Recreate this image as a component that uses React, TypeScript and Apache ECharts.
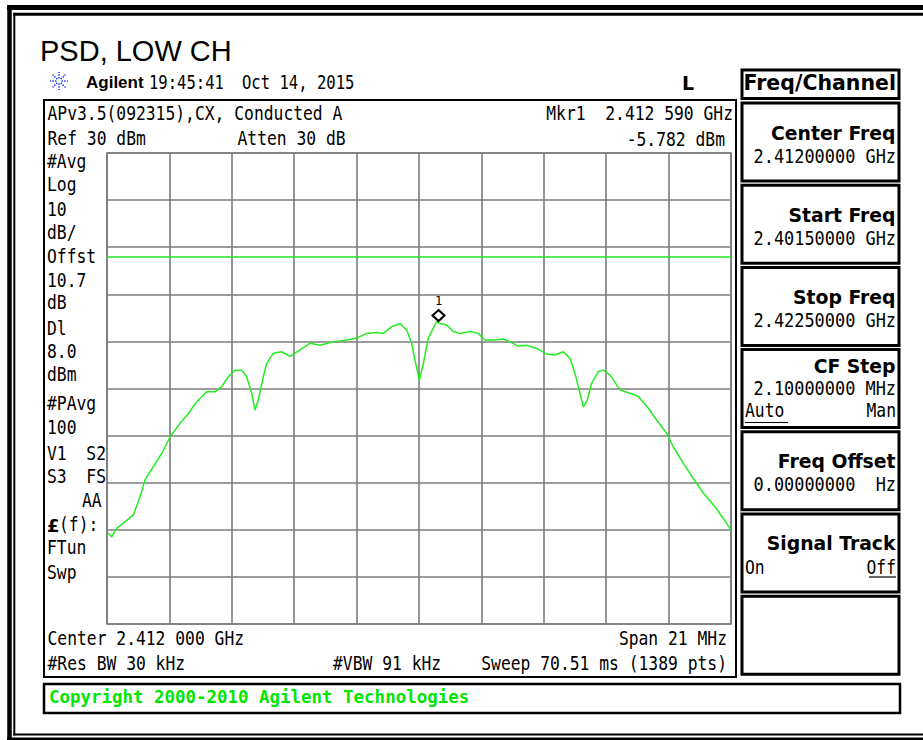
import React, { useEffect, useRef } from "react";
import * as echarts from "echarts";

// ---- Instrument settings ----
const START_MHZ = 2401.5;
const SPAN_MHZ = 21;
const REF_LEVEL_DBM = 30;
const BOTTOM_LEVEL_DBM = -70;
const DB_PER_DIV = 10;
const DISPLAY_LINE_DBM = 8.0;
const MARKER_FREQ_MHZ = 2412.59;
const MARKER_LEVEL_DBM = -5.782;

// ---- Trace ----
const freqMHz = [
  2401.544, 2401.658, 2401.826, 2402.049, 2402.385, 2402.611, 2402.779, 2403.058,
  2403.341, 2403.62, 2403.957, 2404.236, 2404.519, 2404.855, 2405.135, 2405.36,
  2405.582, 2405.808, 2406.033, 2406.201, 2406.37, 2406.481, 2406.592, 2406.76,
  2406.875, 2407.097, 2407.379, 2407.659, 2407.995, 2408.332, 2408.668, 2409.116,
  2409.567, 2409.903, 2410.24, 2410.576, 2410.798, 2411.081, 2411.36, 2411.586,
  2411.754, 2411.865, 2412.01, 2412.145, 2412.313, 2412.481, 2412.59, 2412.707,
  2412.932, 2413.154, 2413.38, 2413.716, 2413.996, 2414.221, 2414.5, 2414.837,
  2415.063, 2415.342, 2415.624, 2415.961, 2416.298, 2416.577, 2416.856, 2417.082,
  2417.25, 2417.418, 2417.529, 2417.644, 2417.812, 2418.034, 2418.202, 2418.428,
  2418.764, 2419.101, 2419.38, 2419.717, 2419.999, 2420.336, 2420.558, 2420.895,
  2421.231, 2421.568, 2421.962, 2422.241, 2422.5,
];
const levelDbm = [
  -50.7, -51.5, -49.7, -48.6, -46.9, -43.0, -39.4, -36.6,
  -33.8, -30.3, -27.4, -25.3, -22.8, -20.7, -20.7, -19.6,
  -17.5, -16.1, -16.1, -17.5, -21.0, -24.6, -22.4, -17.5,
  -14.7, -12.5, -12.2, -13.2, -11.8, -10.4, -10.8, -10.1,
  -9.7, -9.3, -8.3, -8.1, -8.3, -6.9, -6.2, -7.6,
  -10.4, -14.0, -18.2, -14.7, -9.3, -7.2, -5.782, -6.2,
  -6.5, -7.9, -8.3, -7.9, -8.3, -9.7, -9.7, -9.5,
  -10.1, -11.0, -10.8, -11.5, -12.7, -12.9, -12.2, -13.6,
  -16.8, -21.0, -23.9, -22.8, -18.9, -16.4, -16.1, -17.1,
  -20.3, -21.0, -21.7, -24.2, -26.7, -29.5, -32.4, -35.9,
  -39.1, -42.2, -45.1, -47.6, -50.0,
];

// ---- Screen texts ----
const leftLabels = [
  "#Avg", "Log", "10", "dB/", "Offst", "10.7", "dB", "Dl", "8.0", "dBm",
  "#PAvg", "100", "V1  S2", "S3  FS", "AA", "(f):", "FTun", "Swp",
];
const softKeyTitles = ["Center Freq", "Start Freq", "Stop Freq", "CF Step", "Freq Offset", "Signal Track"];
const softKeyValues = ["2.41200000 GHz", "2.40150000 GHz", "2.42250000 GHz", "2.10000000 MHz", "0.00000000  Hz", ""];

const MONO = '"DejaVu Sans Mono", "Liberation Mono", monospace';
const SANS_BOLD = '"DejaVu Sans", "Noto Sans", sans-serif';
const ARIAL = '"Liberation Sans", Arial, sans-serif';

type TOpts = {
  size?: number;
  family?: string;
  weight?: string;
  align?: string;
  sx?: number;
  fill?: string;
};

function txt(text: string, x: number, y: number, o: TOpts = {}) {
  const align = o.align || "left";
  return {
    type: "text",
    x,
    y,
    scaleX: o.sx ?? 1,
    silent: true,
    z: 10,
    style: {
      text,
      fill: o.fill || "#000",
      fontSize: o.size || 19,
      fontFamily: o.family || MONO,
      fontWeight: o.weight || "normal",
      textAlign: align,
      align,
      textVerticalAlign: "middle",
      verticalAlign: "middle",
    },
  };
}

function ln(x1: number, y1: number, x2: number, y2: number, w: number, color = "#000", dash?: number[]) {
  return {
    type: "line",
    silent: true,
    z: 10,
    shape: { x1, y1, x2, y2 },
    style: { stroke: color, lineWidth: w, lineDash: dash },
  };
}

function box(x: number, y: number, w: number, h: number, lw: number) {
  return {
    type: "rect",
    silent: true,
    z: 9,
    shape: { x, y, width: w, height: h },
    style: { fill: "none", stroke: "#000", lineWidth: lw },
  };
}

export default function App() {
  const ref = useRef<HTMLDivElement>(null);

  useEffect(() => {
    document.body.style.margin = "0";
    const chart = echarts.init(ref.current!, null, { renderer: "svg" });

    const INSTR = { size: 19, sx: 0.86 };
    const leftY = [161.5, 185, 209.5, 233, 257, 280.5, 303, 329, 352, 375, 404, 428, 454, 477, 501, 525, 548, 573];

    const graphics: any[] = [];

    // outer double frame
    graphics.push(ln(7, 7.5, 930, 7.5, 5));
    graphics.push(ln(9.5, 5, 9.5, 745, 4.5));
    graphics.push(ln(7, 739.5, 930, 739.5, 4));
    graphics.push(ln(13.3, 14.2, 930, 14.2, 3));
    graphics.push(ln(14.3, 12.7, 14.3, 735.5, 2));
    graphics.push(ln(13.3, 734.5, 930, 734.5, 2));

    // title
    graphics.push(txt("PSD, LOW CH", 40, 51, { size: 29, family: ARIAL }));

    // Agilent icon (starburst)
    const cx = 59, cy = 81;
    for (let k = 0; k < 8; k++) {
      const a = (k * Math.PI) / 4;
      graphics.push(
        ln(cx + Math.cos(a) * 2.5, cy + Math.sin(a) * 2.5, cx + Math.cos(a) * 9, cy + Math.sin(a) * 9, 1.6, "#2a3cff", [1.5, 1.2])
      );
    }
    graphics.push(txt("Agilent", 86, 82, { size: 17, family: ARIAL, weight: "bold" }));
    graphics.push(txt("19:45:41", 149, 82, { size: 19, sx: 0.82 }));
    graphics.push(txt("Oct 14, 2015", 242, 82, { size: 19, sx: 0.82 }));
    graphics.push(txt("L", 682, 83, { size: 19, family: SANS_BOLD, weight: "bold" }));

    // main panel box
    graphics.push(box(44, 100, 692, 577, 2));
    graphics.push(txt("APv3.5(092315),CX, Conducted A", 47.5, 113.5, INSTR));
    graphics.push(txt("Mkr1  2.412 590 GHz", 733, 114, { ...INSTR, align: "right" }));
    graphics.push(txt("Ref 30 dBm", 47.5, 139, INSTR));
    graphics.push(txt("Atten 30 dB", 237.5, 139, INSTR));
    graphics.push(txt("-5.782 dBm", 725, 140, { ...INSTR, align: "right" }));

    leftLabels.forEach((s, i) => {
      const x = s === "AA" ? 82 : s === "(f):" ? 59 : 47;
      graphics.push(txt(s, x, leftY[i], INSTR));
    });
    graphics.push(txt("£", 47, 525, { size: 18, family: SANS_BOLD, weight: "bold" }));

    graphics.push(txt("Center 2.412 000 GHz", 47.5, 638.5, INSTR));
    graphics.push(txt("Span 21 MHz", 727, 638.5, { ...INSTR, align: "right" }));
    graphics.push(txt("#Res BW 30 kHz", 47.5, 664, INSTR));
    graphics.push(txt("#VBW 91 kHz", 333, 664, INSTR));
    graphics.push(txt("Sweep 70.51 ms (1389 pts)", 727, 664, { ...INSTR, align: "right" }));

    // copyright bar
    graphics.push(box(44, 684, 856, 29, 2.5));
    graphics.push(
      txt("Copyright 2000-2010 Agilent Technologies", 49, 697, { size: 18, weight: "bold", sx: 0.97, fill: "#00e600" })
    );

    // soft keys
    graphics.push(box(742, 70, 157, 28.5, 3));
    graphics.push(txt("Freq/Channel", 896, 83, { size: 20.5, family: SANS_BOLD, weight: "bold", align: "right" }));
    const KEY_STEP = 82.2;
    for (let i = 0; i < 7; i++) {
      graphics.push(box(742, 103 + i * KEY_STEP, 157, 78, 3));
    }
    const titleY = [133, 215, 297.5, 366, 461, 543];
    const valueY = [156, 238, 320.5, 388, 484, 0];
    softKeyTitles.forEach((t, i) => {
      graphics.push(txt(t, 895.5, titleY[i], { size: 20, family: SANS_BOLD, weight: "bold", sx: 0.94, align: "right" }));
      if (softKeyValues[i]) {
        graphics.push(txt(softKeyValues[i], 896, valueY[i], { size: 19, sx: 0.89, align: "right" }));
      }
    });
    graphics.push(txt("Auto", 745, 411, { size: 19, sx: 0.86 }));
    graphics.push(ln(745, 422.5, 788, 422.5, 1.2));
    graphics.push(txt("Man", 896, 411, { size: 19, sx: 0.86, align: "right" }));
    graphics.push(txt("On", 745, 567.5, { size: 19, sx: 0.86 }));
    graphics.push(txt("Off", 896, 567.5, { size: 19, sx: 0.86, align: "right" }));
    graphics.push(ln(869, 577, 896, 577, 1.2));

    const data = freqMHz.map((f, i) => [(f - START_MHZ) * 1000, levelDbm[i]]);

    const option: any = {
      animation: false,
      backgroundColor: "#ffffff",
      grid: {
        left: 107,
        top: 153,
        width: 624,
        height: 471,
        show: true,
        borderColor: "#7c7c7c",
        borderWidth: 1.6,
        backgroundColor: "transparent",
      },
      xAxis: {
        type: "value",
        min: 0,
        max: SPAN_MHZ * 1000,
        interval: (SPAN_MHZ * 1000) / 10,
        axisLine: { show: false },
        axisTick: { show: false },
        axisLabel: { show: false },
        splitLine: { show: true, lineStyle: { color: "#7c7c7c", width: 1.6 } },
      },
      yAxis: {
        type: "value",
        min: BOTTOM_LEVEL_DBM,
        max: REF_LEVEL_DBM,
        interval: DB_PER_DIV,
        axisLine: { show: false },
        axisTick: { show: false },
        axisLabel: { show: false },
        splitLine: { show: true, lineStyle: { color: "#7c7c7c", width: 1.6 } },
      },
      series: [
        {
          type: "line",
          data,
          showSymbol: false,
          symbol: "none",
          silent: true,
          lineStyle: { color: "#22ee22", width: 1.5 },
          z: 3,
          markLine: {
            silent: true,
            symbol: "none",
            label: { show: false },
            lineStyle: { color: "#22e622", width: 1.5, type: "solid" },
            data: [{ yAxis: DISPLAY_LINE_DBM }],
          },
          markPoint: {
            silent: true,
            symbol: "diamond",
            symbolSize: [12, 11],
            symbolOffset: [2, -6],
            itemStyle: { color: "#ffffff", borderColor: "#000000", borderWidth: 2 },
            label: {
              show: true,
              formatter: "1",
              position: "top",
              distance: 2,
              color: "#000",
              fontFamily: MONO,
              fontSize: 12,
            },
            data: [{ coord: [(MARKER_FREQ_MHZ - START_MHZ) * 1000, MARKER_LEVEL_DBM] }],
          },
        },
      ],
      graphic: { elements: graphics },
    };

    chart.setOption(option);
    return () => chart.dispose();
  }, []);

  return (
    <div
      ref={ref}
      style={{ position: "absolute", left: 0, top: 0, width: 923, height: 740, background: "#fff" }}
    />
  );
}
